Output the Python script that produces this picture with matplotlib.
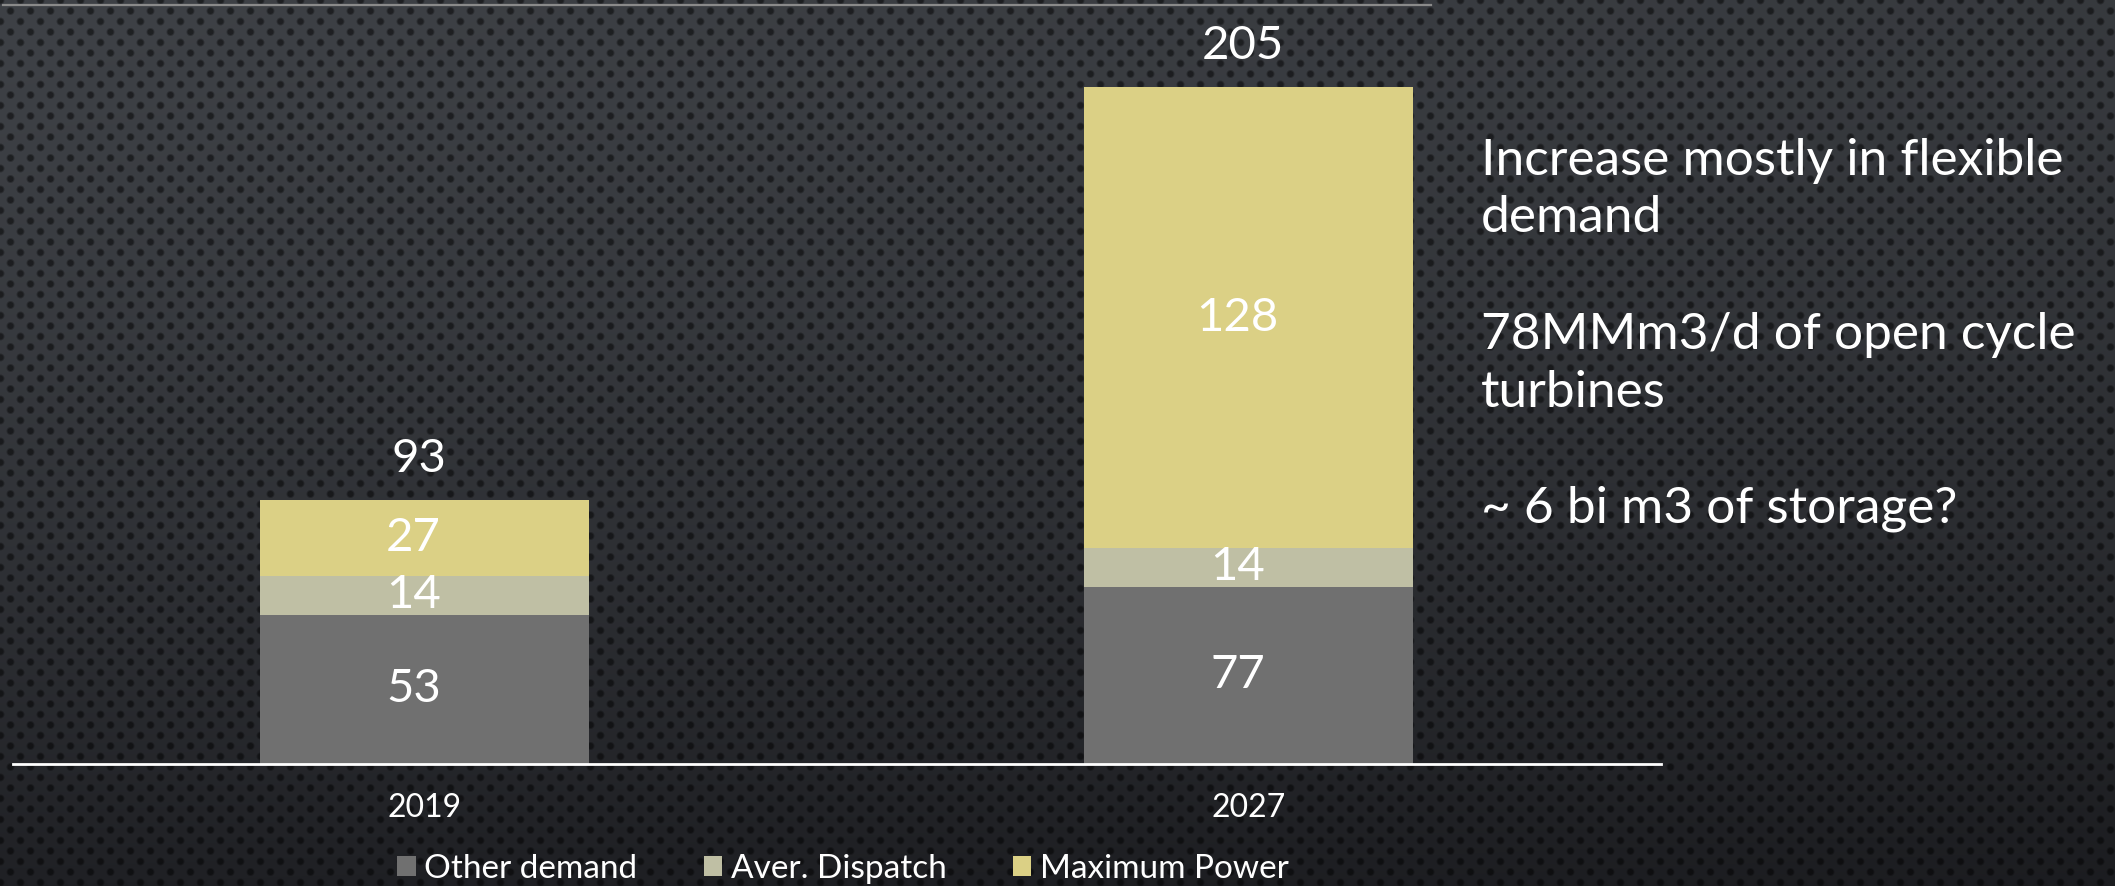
import numpy as np
import matplotlib
matplotlib.use("Agg")
import matplotlib.pyplot as plt
from matplotlib.lines import Line2D

plt.rcParams['font.family'] = ['Lato', 'DejaVu Sans']

# data
years = ['2019', '2027']
series = ['Other demand', 'Aver. Dispatch', 'Maximum Power']
other_demand = [53, 63]      # drawn heights
aver_dispatch = [14, 14]
maximum_power = [27, 164.5]
# the numbers printed on the slide
other_labels = ['53', '77']
dispatch_labels = ['14', '14']
power_labels = ['27', '128']
total_labels = ['93', '205']
note_lines = ['Increase mostly in flexible', 'demand',
              '78MMm3/d of open cycle', 'turbines',
              '~ 6 bi m3 of storage?']

colors = ['#707070', '#bfbfa4', '#dbd085']

W, H = 2115, 886
fig = plt.figure(figsize=(W / 100, H / 100), dpi=100)

# dotted dark background
yy, xx = np.mgrid[0:H, 0:W].astype(float)
t = (yy / H) ** 1.5
top = np.array([62, 65, 70]) / 255.0
bot = np.array([31, 32, 36]) / 255.0
base = top[None, None, :] * (1 - t[..., None]) + bot[None, None, :] * t[..., None]
base *= (1 - 0.12 * (xx / W))[..., None]
px, py = 20.0, 10.5
dA = np.hypot(((xx + px / 2) % px) - px / 2, ((yy + py) % (2 * py)) - py)
dB = np.hypot((xx % px) - px / 2, (yy % (2 * py)) - py)
d = np.minimum(dA, dB)
dot = np.clip((4.5 - d) / 2.0, 0, 1)
img = base * (1 - 0.5 * dot[..., None])
fig.figimage(img, 0, 0, zorder=-10, origin='upper')

fig.add_artist(Line2D([3 / W, 1431 / W], [1 - 5 / H, 1 - 5 / H],
                      color='#8a8a8a', lw=1.6, transform=fig.transFigure))

ax = fig.add_axes([12.5 / W, (H - 763.5) / H, 1648 / W, 700 / H])
ax.set_zorder(1)
ax.patch.set_alpha(0)
x = np.arange(len(years))
bottom = np.zeros(len(years))
stacks = [other_demand, aver_dispatch, maximum_power]
label_sets = [other_labels, dispatch_labels, power_labels]
for vals, labs, col, name in zip(stacks, label_sets, colors, series):
    vals = np.array(vals, dtype=float)
    ax.bar(x, vals, 0.4, bottom=bottom, color=col, label=name, zorder=2)
    for xi, b, v, lab in zip(x, bottom, vals, labs):
        ax.annotate(lab, (xi, b + v / 2), xytext=(-8, 0), textcoords='offset points',
                    ha='center', va='center', color='white', fontsize=34, zorder=3)
    bottom += vals

for xi, b, lab in zip(x, bottom, total_labels):
    ax.annotate(lab, (xi, b), xytext=(-4, 30), textcoords='offset points',
                ha='center', va='center', color='white', fontsize=34)

ax.set_xlim(-0.5, 1.5)
ax.set_ylim(0, 250)
ax.set_xticks(x)
ax.set_xticklabels(years, color='white', fontsize=23)
ax.tick_params(axis='x', length=0, pad=21)
ax.set_yticks([])
for s in ['top', 'right', 'left']:
    ax.spines[s].set_visible(False)
ax.spines['bottom'].set_color('white')
ax.spines['bottom'].set_linewidth(2)

leg = fig.legend(loc='center', bbox_to_anchor=(843 / W, 1 - 869 / H), ncol=3,
                 frameon=False, fontsize=24, handlelength=0.55, handleheight=0.55,
                 handletextpad=0.25, columnspacing=2.0)
for txt in leg.get_texts():
    txt.set_color('white')

note_y = [175, 232, 349, 407, 522]
for line, yb in zip(note_lines, note_y):
    fig.text(1481 / W, 1 - yb / H, line, color='white', fontsize=37,
             ha='left', va='baseline')

fig.savefig('out.png', dpi=100)
